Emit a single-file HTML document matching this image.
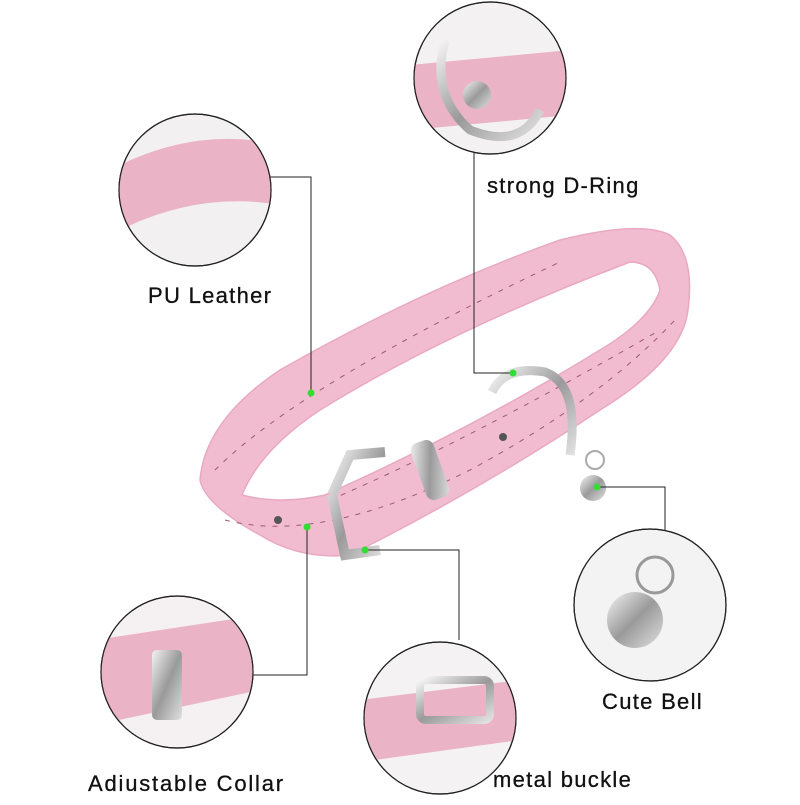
<!DOCTYPE html>
<html><head><style>
body{margin:0;background:#fff}
text{font-family:"Liberation Sans",sans-serif;font-size:22px;fill:#111;letter-spacing:1.3px;stroke:#111;stroke-width:0.3px}
</style></head><body>
<svg width="800" height="800" viewBox="0 0 800 800" xmlns="http://www.w3.org/2000/svg">
<defs>
<linearGradient id="m" x1="0" y1="0" x2="1" y2="1"><stop offset="0" stop-color="#f4f4f4"/><stop offset=".5" stop-color="#9a9a9a"/><stop offset="1" stop-color="#e0e0e0"/></linearGradient>
<clipPath id="c1"><circle cx="195" cy="190" r="76"/></clipPath>
<clipPath id="c2"><circle cx="490" cy="78" r="76"/></clipPath>
<clipPath id="c3"><circle cx="650" cy="605" r="76"/></clipPath>
<clipPath id="c4"><circle cx="177" cy="672" r="76"/></clipPath>
<clipPath id="c5"><circle cx="440" cy="718" r="76"/></clipPath>
</defs>
<rect width="800" height="800" fill="#fff"/>
<!-- collar -->
<path fill-rule="evenodd" fill="#f2bcd0" stroke="#e9a9c0" stroke-width="1.5" d="M200,480 Q205,420 280,370 Q420,290 560,240 Q640,220 670,235 Q695,255 688,310 Q682,360 600,410 Q480,490 350,555 Q300,560 260,535 Q205,505 200,480 Z M242,495 Q260,450 320,410 Q450,330 630,262 Q655,262 660,290 Q650,320 600,350 Q470,430 325,495 Q280,505 242,495 Z"/>
<path d="M215,470 Q300,385 560,262" fill="none" stroke="#9b5a70" stroke-width="1" stroke-dasharray="5,7"/>
<path d="M225,520 Q320,545 470,470 Q600,400 675,320" fill="none" stroke="#9b5a70" stroke-width="1" stroke-dasharray="5,7"/>
<path d="M330,500 Q470,440 660,330" fill="none" stroke="#9b5a70" stroke-width="1" stroke-dasharray="5,7"/>
<path d="M492,392 Q505,365 545,372 Q580,385 570,455" fill="none" stroke="url(#m)" stroke-width="9"/>
<rect x="418" y="440" width="24" height="60" rx="8" fill="url(#m)" transform="rotate(-20 430 470)"/>
<path d="M332,495 L350,455 L385,452 M332,495 L345,555 L380,550" fill="none" stroke="url(#m)" stroke-width="10"/>
<circle cx="595" cy="460" r="9" fill="none" stroke="#aaa" stroke-width="2"/>
<circle cx="593" cy="488" r="13" fill="url(#m)"/>
<circle cx="278" cy="520" r="4" fill="#555"/><circle cx="503" cy="437" r="4" fill="#555"/>
<g stroke="#222" stroke-width="1" fill="none">
<path d="M270,177 H311 V393"/>
<path d="M474,150 V373 H513"/>
<path d="M597,487 H665 V530"/>
<path d="M307,527 V675 H250"/>
<path d="M365,550 H459 V640"/>
</g>
<g fill="#33dd33"><circle cx="311" cy="393" r="3.5"/><circle cx="513" cy="373" r="3.5"/><circle cx="597" cy="487" r="3.5"/><circle cx="307" cy="527" r="3.5"/><circle cx="365" cy="550" r="3.5"/></g>
<g stroke="#222" stroke-width="1.2">
<circle cx="195" cy="190" r="76" fill="#f3f0f1"/>
<circle cx="490" cy="78" r="76" fill="#f4f1f2"/>
<circle cx="650" cy="605" r="76" fill="#f3f3f3"/>
<circle cx="177" cy="672" r="76" fill="#f5f0f2"/>
<circle cx="440" cy="718" r="76" fill="#f5f2f3"/>
</g>
<g clip-path="url(#c1)"><path d="M110,170 Q195,125 280,145 L280,205 Q195,190 110,235 Z" fill="#eab3c6"/></g>
<g clip-path="url(#c2)"><path d="M410,65 L570,50 L570,115 L410,130 Z" fill="#eab3c6"/><circle cx="477" cy="95" r="14" fill="url(#m)"/>
<path d="M445,40 Q430,95 470,130 Q520,150 540,110" fill="none" stroke="url(#m)" stroke-width="9"/></g>
<g clip-path="url(#c3)"><circle cx="655" cy="575" r="18" fill="none" stroke="#999" stroke-width="3"/><circle cx="635" cy="620" r="28" fill="url(#m)"/></g>
<g clip-path="url(#c4)"><path d="M95,640 L260,615 L260,690 L95,725 Z" fill="#eab3c6"/><rect x="152" y="650" width="30" height="70" rx="5" fill="url(#m)"/></g>
<g clip-path="url(#c5)"><path d="M360,700 L520,680 L520,740 L360,762 Z" fill="#eab3c6"/><rect x="420" y="680" width="70" height="40" rx="6" fill="none" stroke="url(#m)" stroke-width="8"/></g>
<circle cx="195" cy="190" r="76" fill="none" stroke="#222" stroke-width="1.2"/>
<circle cx="490" cy="78" r="76" fill="none" stroke="#222" stroke-width="1.2"/>
<circle cx="650" cy="605" r="76" fill="none" stroke="#222" stroke-width="1.2"/>
<circle cx="177" cy="672" r="76" fill="none" stroke="#222" stroke-width="1.2"/>
<circle cx="440" cy="718" r="76" fill="none" stroke="#222" stroke-width="1.2"/>
<text x="148" y="303">PU Leather</text>
<text x="487" y="193">strong D-Ring</text>
<text x="602" y="709">Cute Bell</text>
<text x="88" y="791" style="letter-spacing:1.8px">Adiustable Collar</text>
<text x="493" y="787">metal buckle</text>
</svg>
</body></html>
